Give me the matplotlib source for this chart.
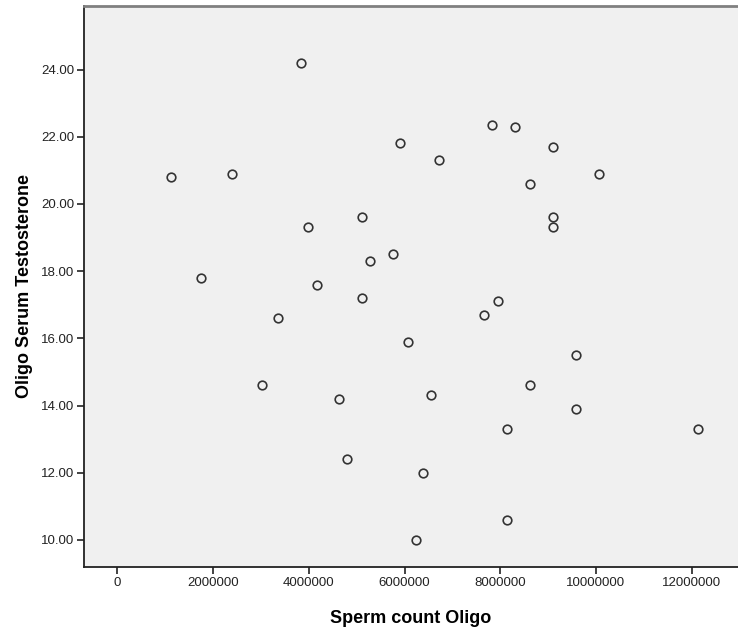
import matplotlib
matplotlib.use('Agg')
import matplotlib.pyplot as plt

plt.rcParams['font.family'] = ['Liberation Sans', 'DejaVu Sans']

# sperm count and serum testosterone
sperm_count = [1110000, 2390000, 1750000, 3830000, 7830000, 5910000, 6710000,
               5110000, 3990000, 5270000, 5750000, 4160000, 5110000, 3350000,
               7670000, 7950000, 8310000, 9110000, 10070000, 8630000, 9110000,
               9110000, 6070000, 3030000, 4630000, 6550000, 4790000, 6380000,
               6230000, 9580000, 8630000, 9580000, 8150000, 12140000, 8150000]
testosterone = [20.8, 20.9, 17.8, 24.2, 22.35, 21.8, 21.3,
                19.6, 19.3, 18.3, 18.5, 17.6, 17.2, 16.6,
                16.7, 17.1, 22.3, 21.7, 20.9, 20.6, 19.6,
                19.3, 15.9, 14.6, 14.2, 14.3, 12.4, 12.0,
                10.0, 15.5, 14.6, 13.9, 13.3, 13.3, 10.6]

x_ticks = [0, 2000000, 4000000, 6000000, 8000000, 10000000, 12000000]
y_ticks = [10, 12, 14, 16, 18, 20, 22, 24]

fig = plt.figure(figsize=(7.38, 6.31), dpi=100)
ax = fig.add_axes([84 / 738, 64 / 631, 654 / 738, 561 / 631])
ax.set_facecolor('#f0f0f0')

ax.plot(sperm_count, testosterone, 'o', markersize=6.2, markerfacecolor='none',
        markeredgecolor='#333333', markeredgewidth=1.2)

ax.set_xlim(-700000, 12970000)
ax.set_ylim(9.196, 25.89)
ax.set_xticks(x_ticks)
ax.set_xticklabels([str(v) for v in x_ticks])
ax.set_yticks(y_ticks)
ax.set_yticklabels(['%.2f' % v for v in y_ticks])
ax.tick_params(labelsize=9.5, colors='#222222', length=5, width=1.2, pad=2)

for side in ['left', 'bottom']:
    ax.spines[side].set_color('#222222')
    ax.spines[side].set_linewidth(1.3)
ax.spines['top'].set_color('#808080')
ax.spines['top'].set_linewidth(2)
ax.spines['right'].set_visible(False)

ax.set_xlabel('Sperm count Oligo', fontsize=13, fontweight='bold', labelpad=15)
ax.set_ylabel('Oligo Serum Testosterone', fontsize=13, fontweight='bold', labelpad=6)

fig.savefig('out.png', dpi=100)
